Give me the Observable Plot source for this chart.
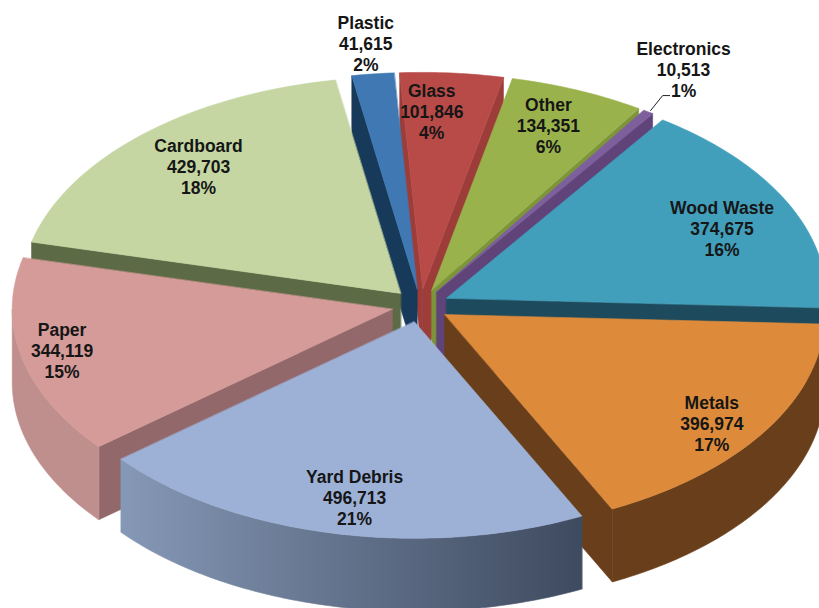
<!DOCTYPE html>
<html>
<head>
<meta charset="utf-8">
<style>html,body{margin:0;padding:0;background:#fff}svg{display:block}</style>
<script src="https://cdn.jsdelivr.net/npm/d3@7"></script>
<script src="https://cdn.jsdelivr.net/npm/@observablehq/plot@0.6"></script>
</head>
<body>
<div id="chart"></div>
<script>
const categories = ["Plastic","Glass","Other","Electronics","Wood Waste","Metals","Yard Debris","Paper","Cardboard"];
const values = [41615,101846,134351,10513,374675,396974,496713,344119,429703];
const percents = ["2%","4%","6%","1%","16%","17%","21%","15%","18%"];
const topColors = ["#3f78b3","#b84b48","#9ab24b","#7d5f9e","#419fbc","#dd8b3b","#9db1d6","#d49b99","#c5d6a2"];
const cutColors = ["#17395a","#9c3d3a","#7d9539","#5f4379","#1d4b5d","#693e1b","#7d8fab","#92686a","#5c6b45"];
const rimColors = ["#17395a","#7a2b28","#6f8a30","#5f4379","#1d4b5d","#693e1b","url(#yardRim)","#bf8f8d","#5c6b45"];
const labelRadius = [1.218,0.896,0.897,1.291,0.87,0.939,0.901,0.966,0.868];
const labelTurn = [-0.1,-2.5,-0.6,-1.4,2.2,2.1,-1.1,0.4,0.8];
const leaderRadius = [1.085,1.16,1.17];
const leaderTurn = [0.1,-0.5,0.25];

const startAngle = -9.9, radius = 380, explode = 29, tilt = 0.57, depth = 73;
const cx = 420, cy = 305;
const total = d3.sum(values);
const rad = (d) => d * Math.PI / 180;
const proj = (angle, r, ox = 0, oy = 0, down = 0) => ({
  px: cx + ox + r * Math.sin(rad(angle)),
  py: cy - (oy + r * Math.cos(rad(angle))) * tilt + down
});

let running = startAngle;
const slices = categories.map((name, i) => {
  const a0 = running;
  const a1 = running + values[i] / total * 360;
  running = a1;
  const mid = (a0 + a1) / 2;
  return {i, name, a0, a1, mid,
    ox: explode * Math.sin(rad(mid)), oy: explode * Math.cos(rad(mid))};
});
const arcAngles = (a, b) => d3.range(a, b, 1).concat([b]);
const faces = [];
for (const s of d3.sort(slices, (d) => -Math.cos(rad(d.mid)))) {
  const at = (a, r, down = 0) => proj(a, r, s.ox, s.oy, down);
  const cut = (a) => [at(a, 0), at(a, radius), at(a, radius, depth), at(a, 0, depth)];
  if (Math.sin(rad(s.a0)) < 0) faces.push({fill: cutColors[s.i], points: cut(s.a0)});
  if (Math.sin(rad(s.a1)) > 0) faces.push({fill: cutColors[s.i], points: cut(s.a1)});
  const lo = Math.max(s.a0, 90), hi = Math.min(s.a1, 270);
  if (hi > lo) {
    const arc = arcAngles(lo, hi);
    faces.push({fill: rimColors[s.i], points: [
      ...arc.map((a) => at(a, radius)),
      ...arc.slice().reverse().map((a) => at(a, radius, depth))
    ]});
  }
  faces.push({fill: topColors[s.i], points: [
    at(s.a0, 0), ...arcAngles(s.a0, s.a1).map((a) => at(a, radius))
  ]});
}
const labels = slices.map((s) => ({
  ...proj(s.mid + labelTurn[s.i], radius * labelRadius[s.i]),
  text: `${s.name}\n${d3.format(",")(values[s.i])}\n${percents[s.i]}`
}));
const small = slices[categories.indexOf("Electronics")];
const leader = leaderRadius.map((r, j) => proj(small.mid + leaderTurn[j], radius * r));

const gradient = () => {
  const svgNS = "http://www.w3.org/2000/svg";
  const defs = document.createElementNS(svgNS, "defs");
  const g = document.createElementNS(svgNS, "linearGradient");
  g.setAttribute("id", "yardRim");
  [["0%", "#8598b6"], ["100%", "#3e4a5f"]].forEach(([o, c]) => {
    const st = document.createElementNS(svgNS, "stop");
    st.setAttribute("offset", o);
    st.setAttribute("stop-color", c);
    g.appendChild(st);
  });
  defs.appendChild(g);
  return defs;
};

const chart = Plot.plot({
  width: 819, height: 608,
  margin: 0,
  style: {background: "#fff"},
  x: {domain: [0, 819], range: [0, 819], axis: null},
  y: {domain: [0, 608], range: [0, 608], axis: null},
  marks: [
    gradient,
    ...faces.map((f) => Plot.line(f.points, {x: "px", y: "py", fill: f.fill, stroke: f.fill, strokeWidth: 0.6, curve: "linear-closed"})),
    Plot.line(leader, {x: "px", y: "py", stroke: "#222", strokeWidth: 1}),
    Plot.text(labels, {x: "px", y: "py", text: "text", fontSize: 17.5, fontWeight: "bold", lineHeight: 1.2, fontFamily: "Liberation Sans, Arial, sans-serif", fill: "#161616"})
  ]
});
document.getElementById("chart").appendChild(chart);
</script>
</body>
</html>
